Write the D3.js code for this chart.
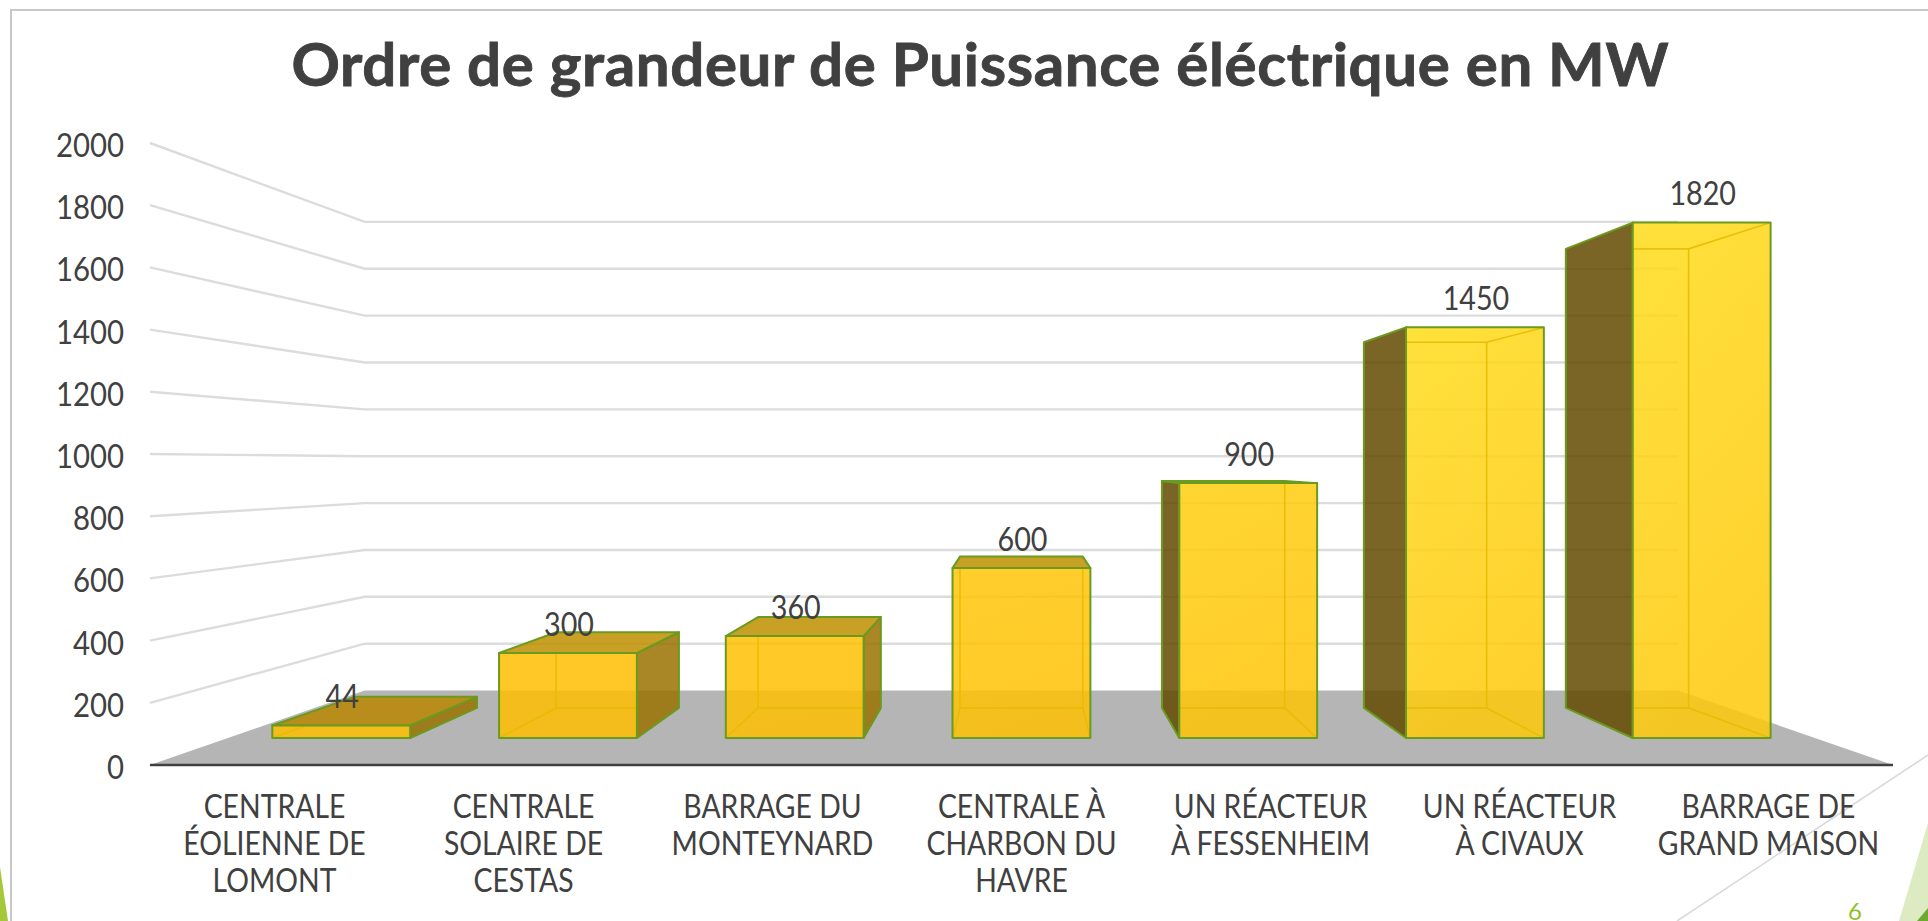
<!DOCTYPE html>
<html lang="fr">
<head>
<meta charset="utf-8">
<title>Ordre de grandeur de Puissance éléctrique en MW</title>
<script src="https://cdnjs.cloudflare.com/ajax/libs/d3/7.8.5/d3.min.js"></script>
<style>
html,body{margin:0;padding:0;background:#fff;overflow:hidden}
svg{display:block}
text{fill:#404040;font-family:"Lato","Noto Sans",sans-serif}
</style>
</head>
<body>
<svg id="chart" width="1928" height="921"></svg>
<script>
const titleText = "Ordre de grandeur de Puissance éléctrique en MW";
const categories = [
  "CENTRALE ÉOLIENNE DE LOMONT",
  "CENTRALE SOLAIRE DE CESTAS",
  "BARRAGE DU MONTEYNARD",
  "CENTRALE À CHARBON DU HAVRE",
  "UN RÉACTEUR À FESSENHEIM",
  "UN RÉACTEUR À CIVAUX",
  "BARRAGE DE GRAND MAISON"
];
const categoryLines = [
  ["CENTRALE","ÉOLIENNE DE","LOMONT"],
  ["CENTRALE","SOLAIRE DE","CESTAS"],
  ["BARRAGE DU","MONTEYNARD"],
  ["CENTRALE À","CHARBON DU","HAVRE"],
  ["UN RÉACTEUR","À FESSENHEIM"],
  ["UN RÉACTEUR","À CIVAUX"],
  ["BARRAGE DE","GRAND MAISON"]
];
const values = [44, 300, 360, 600, 900, 1450, 1820];
const yTicks = [0,200,400,600,800,1000,1200,1400,1600,1800,2000];

const svg = d3.select("#chart");

// Perspective: the front plane of the floor is drawn with the two scales,
// every deeper plane shrinks towards the vanishing point.
const x = d3.scaleBand().domain(categories).range([150,1893]).paddingInner(0.392).paddingOuter(0.196);
const y = d3.scaleLinear().domain([0,2000]).range([765,143]);
const vp = {x:1021, y:463};
const depth = {wall:0.7535, barBack:0.811, barFront:0.9106};
const project = (px, v, s) => [vp.x+(px-vp.x)*s, vp.y+(y(v)-vp.y)*s];
const poly = pts => pts.map(p=>p.join(",")).join(" ");

// Slide decoration
const deco = svg.append("g");
deco.append("polygon").attr("points","0,867 8,921 0,921").attr("fill","#A3C93A");
deco.append("polygon").attr("points","1928,823 1928,921 1899,921").attr("fill","#DDEBC3");
deco.append("polygon").attr("points","1928,908 1928,921 1917,921").attr("fill","#6EAA32");
deco.append("path").attr("d","M1928,755 L1677,921").attr("stroke","#D9D9D9").attr("stroke-width",1.6).attr("fill","none");
deco.append("path").attr("d","M1928,10 L11,10 L11,921").attr("stroke","#C8C8C8").attr("stroke-width",2).attr("fill","none");

const defs = svg.append("defs");
const shade = d3.scaleLinear().domain([300,1450]).range([0,1]).clamp(true);
const topCol = d3.interpolateRgb("rgb(255,190,0)","rgb(255,220,26)");
const botCol = d3.interpolateRgb("rgb(255,190,0)","rgb(255,201,10)");

// Floor
const [x0,x1] = x.range();
svg.append("polygon").attr("fill","#B5B5B5")
  .attr("points",poly([project(x0,0,1),project(x0,0,depth.wall),project(x1,0,depth.wall),project(x1,0,1)]));

// Gridlines: side wall then back wall
svg.append("g").selectAll("polyline").data(yTicks.filter(d=>d>0)).join("polyline")
  .attr("fill","none").attr("stroke","#DCDCDC").attr("stroke-width",2.4)
  .attr("points",d=>poly([project(x0,d,1),project(x0,d,depth.wall),project(x1,d,depth.wall)]));

// Axis base line
svg.append("line").attr("x1",x0).attr("x2",x1).attr("y1",y(0)).attr("y2",y(0))
  .attr("stroke","#404040").attr("stroke-width",2.6);

// Bars
const barG = svg.append("g").selectAll("g").data(categories).join("g");
barG.each(function(cat,i){
  const g = d3.select(this), v = values[i];
  const l = x(cat), r = l+x.bandwidth();
  const F = depth.barFront, B = depth.barBack;
  const flb=project(l,0,F), frb=project(r,0,F), frt=project(r,v,F), flt=project(l,v,F);
  const blb=project(l,0,B), brb=project(r,0,B), brt=project(r,v,B), blt=project(l,v,B);
  const edge = "#6A9A1F", a = 0.85;

  const gr = defs.append("linearGradient").attr("id","barFill"+i)
    .attr("x1",0).attr("y1",0).attr("x2",0.3).attr("y2",1);
  gr.append("stop").attr("offset",0).attr("stop-color",topCol(shade(v)));
  gr.append("stop").attr("offset",1).attr("stop-color",botCol(shade(v)));
  defs.append("clipPath").attr("id","frontClip"+i).append("polygon").attr("points",poly([flb,frb,frt,flt]));

  const side = (pts,fill) => g.append("polygon").attr("points",poly(pts))
    .attr("fill",fill).attr("fill-opacity",a).attr("stroke",edge).attr("stroke-width",2).attr("stroke-linejoin","round");
  if (flb[0] > vp.x+1) side([flb,blb,blt,flt],"#634900");
  if (frb[0] < vp.x-1) side([frb,brb,brt,frt],"#9A7100");
  if (flt[1] > vp.y+1) side([flt,blt,brt,frt],v<100?"#B98600":"#BE8F00");

  // Front
  g.append("polygon").attr("points",poly([flb,frb,frt,flt]))
    .attr("fill",`url(#barFill${i})`).attr("fill-opacity",a);
  // Inner edges seen through the front only
  const inner = g.append("g").attr("clip-path",`url(#frontClip${i})`).attr("fill","none")
    .attr("stroke","#E3BC00").attr("stroke-width",1.6).attr("stroke-opacity",0.85);
  inner.append("polygon").attr("points",poly([blb,brb,brt,blt]));
  inner.append("polyline").attr("points",poly([flb,blb]));
  inner.append("polyline").attr("points",poly([frb,brb]));
  inner.append("polyline").attr("points",poly([flt,blt]));
  inner.append("polyline").attr("points",poly([frt,brt]));
  g.append("polygon").attr("points",poly([flb,frb,frt,flt]))
    .attr("fill","none").attr("stroke",edge).attr("stroke-width",2).attr("stroke-linejoin","round");
  // Data label
  const c = project(l+x.bandwidth()/2,v,F);
  g.append("text").attr("transform",`translate(${c[0]+1},${c[1]-30}) scale(0.87,1)`)
    .attr("text-anchor","middle").attr("dominant-baseline","central")
    .attr("font-size",33).text(v);
});

// Value axis
const axis = d3.axisLeft(y).tickValues(yTicks).tickSize(0).tickPadding(0).tickFormat(d3.format("d"));
const ag = svg.append("g").attr("transform","translate(124,2)").call(axis);
ag.select(".domain").remove();
ag.selectAll("text").attr("font-size",33).attr("transform","scale(0.89,1)")
  .style("font-family",'"Lato","Noto Sans",sans-serif').style("fill","#404040").attr("dy","0.35em");

// Category labels
const lineY = [806,843,880];
svg.append("g").selectAll("text").data(categories).join("text")
  .attr("text-anchor","middle").attr("font-size",33)
  .attr("transform",d=>`translate(${x(d)+x.bandwidth()/2},0) scale(0.86,1)`)
  .each(function(cat,i){
    const t = d3.select(this);
    categoryLines[i].forEach((s,k)=>{
      t.append("tspan").attr("x",0).attr("y",lineY[k]).attr("dy","0.36em").text(s);
    });
  });

// Title
svg.append("text").attr("x",980).attr("y",63).attr("text-anchor","middle").attr("dominant-baseline","central")
  .attr("font-size",60).attr("font-weight",700).attr("textLength",1377).attr("lengthAdjust","spacing")
  .style("stroke","#404040").style("stroke-width",0.9)
  .text(titleText);

// Page number
svg.append("text").attr("x",1855).attr("y",920).attr("text-anchor","middle")
  .attr("font-size",24).style("fill","#90C226").text("6");
</script>
</body>
</html>
